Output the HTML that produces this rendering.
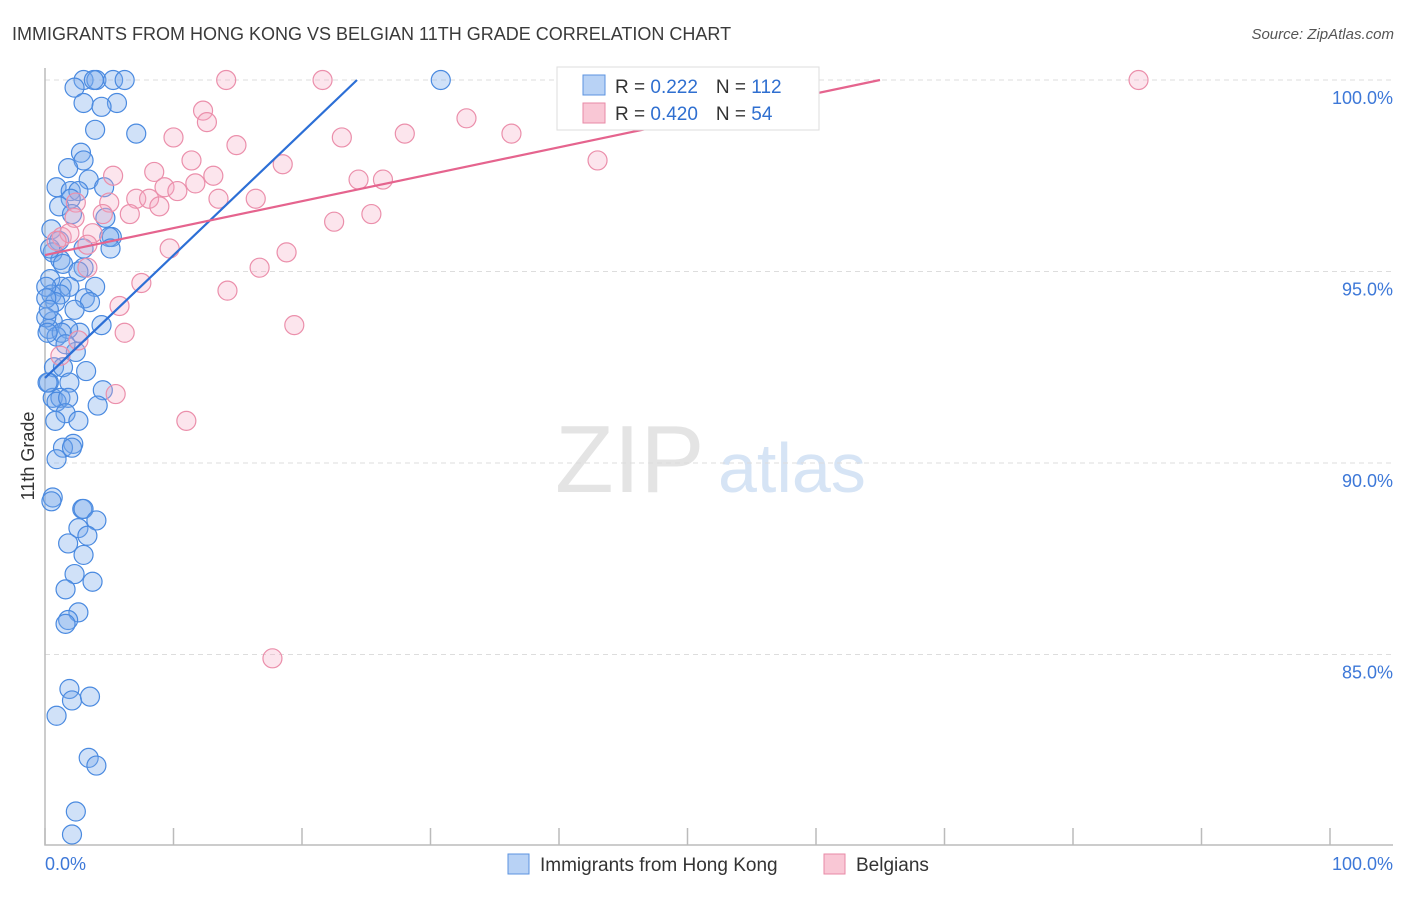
<!DOCTYPE html>
<html><head><meta charset="utf-8"><style>
body{margin:0;background:#fff;font-family:"Liberation Sans",sans-serif}
svg text{font-family:"Liberation Sans",sans-serif}
</style></head><body>
<svg id="c" width="1406" height="892">
<text x="12" y="40" font-size="18" fill="#3a3a3a">IMMIGRANTS FROM HONG KONG VS BELGIAN 11TH GRADE CORRELATION CHART</text>
<text x="1394" y="39" font-size="15" fill="#555" text-anchor="end" font-style="italic">Source: ZipAtlas.com</text>
<text x="34" y="456" font-size="18" fill="#333" text-anchor="middle" transform="rotate(-90 34 456)">11th Grade</text>
<text x="555" y="492" font-size="96" fill="#e4e4e4" font-family="Liberation Serif">ZIP</text>
<text x="718" y="492" font-size="70" fill="#d6e4f5">atlas</text>
<g id="grid"></g><g id="pts"></g><g id="lines"></g>
<g>
<rect x="557" y="67" width="262" height="63" fill="#fff" stroke="#ddd"/>
<rect x="583" y="75" width="22" height="20" fill="#b8d2f5" stroke="#5b93e0"/>
<rect x="583" y="103" width="22" height="20" fill="#f9c7d5" stroke="#e88aa6"/>
<text x="615" y="93" font-size="19" fill="#333">R = <tspan fill="#2f6fd0"> 0.222</tspan><tspan dx="18">N = </tspan><tspan fill="#2f6fd0"> 112</tspan></text>
<text x="615" y="120" font-size="19" fill="#333">R = <tspan fill="#2f6fd0">0.420</tspan><tspan dx="18">N = </tspan><tspan fill="#2f6fd0">  54</tspan></text>
</g>
<g>
<rect x="508" y="854" width="21" height="20" fill="#b8d2f5" stroke="#5b93e0"/>
<text x="540" y="871" font-size="19" fill="#333">Immigrants from Hong Kong</text>
<rect x="824" y="854" width="21" height="20" fill="#f9c7d5" stroke="#e88aa6"/>
<text x="856" y="871" font-size="19" fill="#333">Belgians</text>
</g>
</svg>
<script>
const yTicks=[100,95,90,85];
const yTickLabels=["100.0%","95.0%","90.0%","85.0%"];
const xTickLabels=["0.0%","100.0%"];
const blueX=[3.0,4.0,3.8,5.3,6.2,30.8,2.3,3.0,5.6,4.4,3.9,7.1,2.8,3.0,1.8,3.4,0.9,2.0,2.6,4.6,2.0,1.1,2.1,4.7,0.5,5.2,5.0,1.1,5.1,3.0,0.6,1.2,1.4,3.0,2.6,0.4,1.3,1.9,3.9,0.5,1.2,3.1,0.8,3.5,2.3,0.6,4.4,2.7,1.8,0.3,0.9,1.3,2.4,1.6,0.7,1.4,3.2,1.9,0.3,0.6,1.2,0.9,1.8,4.5,4.1,1.6,0.8,2.6,2.2,1.4,2.1,0.9,0.6,0.5,2.9,3.0,4.0,2.6,3.3,1.8,3.0,2.3,3.7,1.6,2.6,1.8,1.6,1.9,2.1,3.5,0.9,3.4,4.0,2.4,2.1,0.1,0.1,0.2,0.2,0.4,0.1,0.3];
const blueY=[100,100,100,100,100,100,99.8,99.4,99.4,99.3,98.7,98.6,98.1,97.9,97.7,97.4,97.2,97.1,97.1,97.2,96.9,96.7,96.5,96.4,96.1,95.9,95.9,95.8,95.6,95.6,95.5,95.3,95.2,95.1,95.0,94.8,94.6,94.6,94.6,94.4,94.4,94.3,94.2,94.2,94.0,93.7,93.6,93.4,93.5,93.5,93.3,93.4,92.9,93.1,92.5,92.5,92.4,92.1,92.1,91.7,91.7,91.6,91.7,91.9,91.5,91.3,91.1,91.1,90.5,90.4,90.4,90.1,89.1,89.0,88.8,88.8,88.5,88.3,88.1,87.9,87.6,87.1,86.9,86.7,86.1,85.9,85.8,84.1,83.8,83.9,83.4,82.3,82.1,80.9,80.3,94.6,93.8,93.4,92.1,95.6,94.3,94.0];
const pinkX=[14.1,21.6,52.1,85.1,12.3,12.6,10.0,23.1,28.0,32.8,36.3,14.9,11.4,18.5,43.0,8.5,5.3,9.3,11.7,10.3,7.1,8.1,13.1,16.4,13.5,24.4,26.3,8.9,5.0,2.4,6.6,2.3,4.5,22.5,25.4,1.3,1.9,3.7,9.7,3.3,0.9,18.8,16.7,3.3,7.5,14.2,5.8,19.4,6.2,2.6,1.2,5.5,11.0,17.7];
const pinkY=[100,100,100,100,99.2,98.9,98.5,98.5,98.6,99.0,98.6,98.3,97.9,97.8,97.9,97.6,97.5,97.2,97.3,97.1,96.9,96.9,97.5,96.9,96.9,97.4,97.4,96.7,96.8,96.8,96.5,96.4,96.5,96.3,96.5,95.9,96.0,96.0,95.6,95.7,95.8,95.5,95.1,95.1,94.7,94.5,94.1,93.6,93.4,93.2,92.8,91.8,91.1,84.9];
const blueLine=[[0,92.22],[24.28,100]];
const pinkLine=[[0,95.43],[64.98,100]];
const X=v=>45+v*12.85, Y=v=>80+(100-v)*38.3;
const NS="http://www.w3.org/2000/svg";
function mk(tag,attrs,parent){const e=document.createElementNS(NS,tag);for(const k in attrs)e.setAttribute(k,attrs[k]);document.getElementById(parent).appendChild(e);return e;}
yTicks.forEach((t,i)=>{
 const l=mk('line',{x1:45,x2:1393,y1:Y(t),y2:Y(t),stroke:'#ddd','stroke-dasharray':'5,4'},'grid');
 
 
 const tx=mk('text',{x:1393,y:Y(t)+24,'font-size':18,fill:'#3d78d8','text-anchor':'end'},'grid');
 tx.textContent=yTickLabels[i];
 
 
});
const ax=mk('path',{d:'M45 68V845H1393',stroke:'#bbb',fill:'none','stroke-width':1.5},'grid');


for(let i=0;i<=10;i++){const t=mk('line',{x1:X(i*10),x2:X(i*10),y1:828,y2:845,stroke:'#bbb','stroke-width':1.5},'grid');
 
 }
[[0,'start',45],[1,'end',1393]].forEach(([i,a,x])=>{const t=mk('text',{x:x,y:870,'font-size':18,fill:'#3d78d8','text-anchor':a},'grid');t.textContent=xTickLabels[i];
 
 });
blueX.forEach((v,i)=>{const c=mk('circle',{cx:X(v),cy:Y(blueY[i]),r:9.5,fill:'rgba(120,170,235,0.35)',stroke:'#4a8ae0','stroke-width':1.2},'pts');
 
 });
pinkX.forEach((v,i)=>{const c=mk('circle',{cx:X(v),cy:Y(pinkY[i]),r:9.5,fill:'rgba(245,170,195,0.3)',stroke:'#eb8fab','stroke-width':1.2},'pts');
 
 });
const bl=mk('line',{x1:X(blueLine[0][0]),y1:Y(blueLine[0][1]),x2:X(blueLine[1][0]),y2:Y(blueLine[1][1]),stroke:'#2c6fd6','stroke-width':2.2},'lines');


const pl=mk('line',{x1:X(pinkLine[0][0]),y1:Y(pinkLine[0][1]),x2:X(pinkLine[1][0]),y2:Y(pinkLine[1][1]),stroke:'#e5648e','stroke-width':2.2},'lines');


</script>
</body></html>
